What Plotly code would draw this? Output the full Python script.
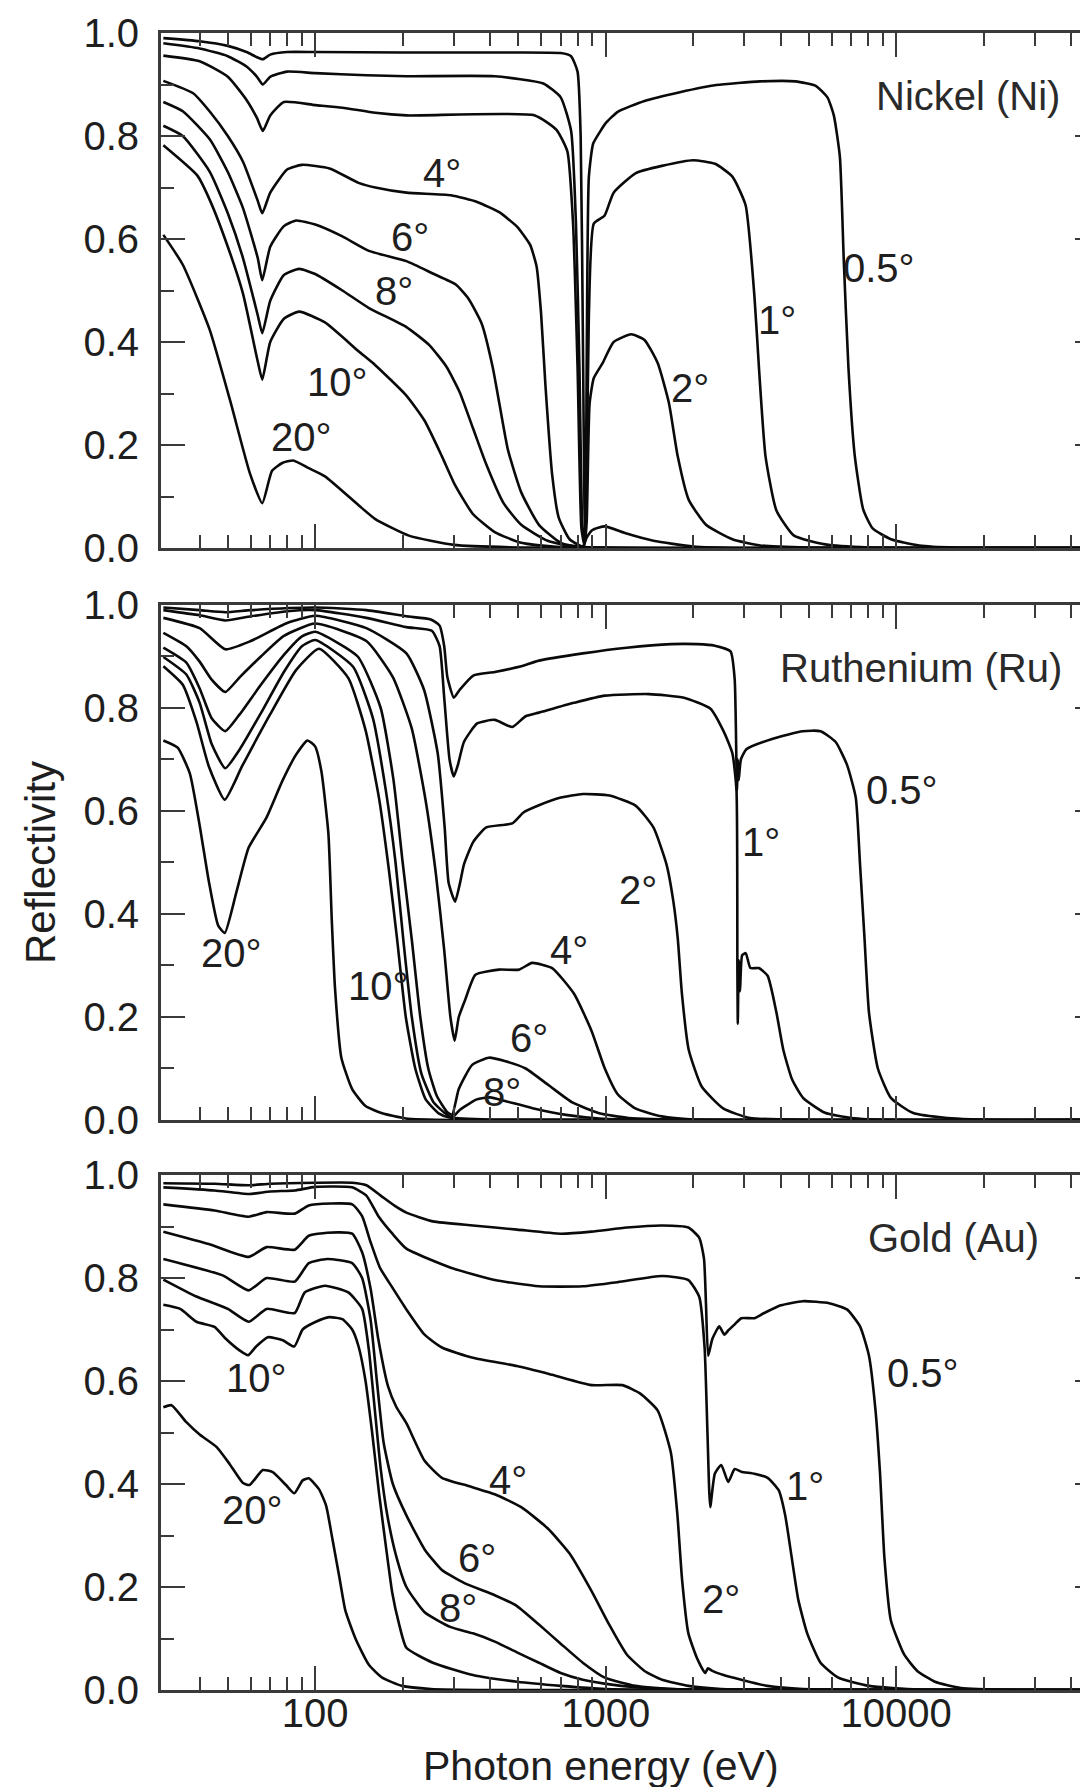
import math
import plotly.graph_objects as go

FONT = "Liberation Sans, Arial, Helvetica, sans-serif"

# ---------------- data: [photon energy (eV), reflectivity] ----------------
ni_05 = [[30,0.990],[40,0.984],[50,0.975],[58,0.963],[63,0.953],[66,0.949],[70,0.958],[80,0.963],[100,0.963],[200,0.962],[400,0.962],[700,0.961],[760,0.955],[800,0.925],[820,0.80],[835,0.40],[845,0.08],[852,0.02],[860,0.35],[875,0.72],[905,0.785],[960,0.81],[1000,0.825],[1100,0.847],[1360,0.868],[1800,0.885],[2400,0.899],[3400,0.906],[4500,0.906],[5300,0.897],[5800,0.875],[6100,0.84],[6400,0.76],[6600,0.56],[6850,0.35],[7200,0.18],[7700,0.075],[8300,0.038],[9600,0.017],[12000,0.005],[16000,0.001],[49000,0.0]]
ni_1 = [[30,0.980],[40,0.970],[50,0.955],[58,0.935],[63,0.915],[66,0.900],[70,0.915],[80,0.925],[100,0.922],[150,0.918],[206,0.916],[415,0.916],[610,0.902],[700,0.875],[760,0.81],[790,0.63],[812,0.35],[830,0.05],[845,0.01],[858,0.10],[875,0.45],[910,0.63],[990,0.645],[1065,0.69],[1270,0.728],[1560,0.742],[2000,0.753],[2380,0.746],[2730,0.721],[3030,0.666],[3250,0.49],[3370,0.35],[3550,0.178],[3870,0.073],[4450,0.024],[5700,0.007],[8000,0.001],[49000,0.0]]
ni_2 = [[30,0.956],[40,0.945],[50,0.915],[58,0.870],[63,0.835],[66,0.810],[70,0.840],[78,0.866],[100,0.860],[124,0.855],[161,0.845],[206,0.840],[570,0.840],[677,0.812],[738,0.770],[772,0.630],[800,0.352],[825,0.038],[845,0.005],[860,0.05],[880,0.28],[910,0.33],[976,0.359],[1065,0.400],[1224,0.415],[1360,0.404],[1510,0.359],[1650,0.282],[1770,0.178],[1930,0.094],[2215,0.045],[2730,0.017],[3400,0.005],[5000,0.001],[49000,0.0]]
ni_4 = [[30,0.907],[38,0.883],[43.4,0.847],[50,0.800],[56.4,0.750],[63.4,0.674],[65.7,0.650],[70,0.690],[80,0.735],[90,0.744],[112,0.737],[141,0.709],[161,0.700],[206,0.690],[293,0.685],[361,0.672],[430,0.652],[495,0.624],[549,0.589],[578,0.547],[599,0.456],[620,0.317],[654,0.143],[689,0.059],[751,0.017],[834,0.003],[860,0.020],[900,0.035],[993,0.042],[1180,0.028],[1460,0.014],[2000,0.003],[3000,0.0],[49000,0.0]]
ni_6 = [[30,0.866],[35,0.848],[43.4,0.793],[50,0.730],[56.4,0.660],[63.4,0.563],[65.7,0.520],[70,0.585],[78,0.625],[86,0.636],[100,0.628],[124,0.605],[153,0.577],[206,0.557],[254,0.533],[304,0.512],[337,0.484],[374,0.436],[408,0.352],[430,0.282],[461,0.190],[512,0.108],[589,0.045],[700,0.010],[850,0.002],[49000,0.0]]
ni_8 = [[30,0.820],[35,0.800],[43.4,0.730],[50,0.650],[56.4,0.563],[63.4,0.452],[65.7,0.417],[70,0.480],[78,0.530],[88,0.542],[100,0.532],[124,0.500],[153,0.466],[206,0.429],[247,0.394],[283,0.352],[314,0.303],[349,0.233],[387,0.164],[445,0.087],[512,0.045],[631,0.014],[800,0.002],[49000,0.0]]
ni_10 = [[30,0.782],[39.3,0.723],[43.4,0.675],[50,0.585],[56.4,0.494],[63.4,0.362],[65.7,0.327],[70,0.400],[78,0.445],[88,0.459],[108,0.438],[141,0.382],[161,0.355],[206,0.296],[238,0.247],[273,0.178],[303,0.122],[349,0.066],[415,0.031],[512,0.010],[700,0.002],[49000,0.0]]
ni_20 = [[30,0.608],[35,0.550],[43.3,0.424],[51,0.285],[59.5,0.146],[65.7,0.087],[71,0.150],[77,0.165],[84,0.170],[95,0.155],[108,0.139],[141,0.083],[161,0.056],[210,0.024],[300,0.006],[500,0.001],[49000,0.0]]

ru_05 = [[30,0.995],[40,0.990],[49,0.986],[60,0.990],[100,0.995],[150,0.990],[206,0.978],[250,0.972],[268,0.960],[278,0.920],[285,0.860],[300,0.820],[314,0.835],[350,0.863],[415,0.870],[512,0.881],[589,0.892],[834,0.906],[1180,0.917],[1680,0.924],[2065,0.924],[2375,0.921],[2690,0.910],[2780,0.856],[2830,0.640],[2850,0.700],[2870,0.660],[2920,0.700],[3050,0.720],[3740,0.740],[4770,0.755],[5490,0.755],[6190,0.734],[6770,0.690],[7260,0.626],[7510,0.496],[7780,0.353],[8060,0.209],[8650,0.100],[9590,0.043],[11400,0.014],[15000,0.004],[25000,0.0],[49000,0.0]]
ru_1 = [[30,0.990],[40,0.980],[49,0.970],[60,0.978],[80,0.988],[100,0.990],[150,0.975],[206,0.957],[252,0.950],[268,0.920],[278,0.820],[290,0.700],[300,0.667],[310,0.690],[325,0.734],[361,0.770],[415,0.777],[477,0.763],[530,0.784],[589,0.791],[778,0.810],[993,0.824],[1410,0.827],[1860,0.820],[2290,0.799],[2545,0.755],[2730,0.712],[2820,0.640],[2840,0.300],[2850,0.187],[2870,0.310],[2900,0.250],[2950,0.320],[3035,0.324],[3150,0.295],[3366,0.295],[3610,0.280],[3870,0.209],[4085,0.137],[4380,0.079],[4780,0.043],[5690,0.014],[7000,0.004],[10000,0.0],[49000,0.0]]
ru_2 = [[30,0.975],[40,0.955],[49,0.914],[60,0.930],[80,0.965],[100,0.979],[150,0.955],[206,0.906],[237,0.835],[264,0.712],[279,0.568],[288,0.460],[303,0.424],[315,0.460],[325,0.496],[350,0.540],[388,0.568],[477,0.576],[521,0.597],[589,0.611],[700,0.626],[834,0.633],[1030,0.630],[1270,0.610],[1460,0.568],[1620,0.496],[1710,0.424],[1770,0.353],[1830,0.245],[1930,0.137],[2140,0.065],[2545,0.022],[3140,0.004],[5000,0.0],[49000,0.0]]
ru_4 = [[30,0.946],[36,0.920],[40,0.890],[44,0.855],[49,0.831],[55,0.860],[65,0.900],[78,0.940],[100,0.964],[150,0.930],[185,0.860],[215,0.760],[240,0.620],[260,0.480],[278,0.330],[292,0.200],[302,0.154],[312,0.200],[329,0.235],[356,0.282],[429,0.292],[503,0.292],[558,0.305],[654,0.295],[778,0.245],[894,0.173],[993,0.100],[1100,0.050],[1270,0.022],[1560,0.007],[2000,0.001],[49000,0.0]]
ru_6 = [[30,0.917],[36,0.888],[40,0.838],[44,0.780],[49,0.755],[55,0.788],[65,0.845],[78,0.903],[90,0.939],[100,0.948],[140,0.900],[168,0.800],[186,0.660],[200,0.500],[215,0.350],[230,0.200],[245,0.100],[262,0.047],[285,0.015],[296,0.010],[312,0.060],[347,0.107],[396,0.121],[452,0.114],[530,0.100],[638,0.067],[768,0.034],[950,0.013],[1200,0.004],[2000,0.0],[49000,0.0]]
ru_8 = [[30,0.899],[36,0.865],[40,0.810],[44,0.730],[49,0.683],[55,0.720],[65,0.790],[78,0.870],[90,0.920],[100,0.932],[135,0.880],[158,0.780],[175,0.640],[189,0.500],[201,0.350],[215,0.200],[232,0.090],[255,0.035],[280,0.013],[296,0.005],[315,0.020],[360,0.040],[400,0.044],[450,0.037],[560,0.023],[730,0.010],[950,0.003],[1500,0.0],[49000,0.0]]
ru_10 = [[30,0.881],[35,0.845],[39,0.773],[43,0.687],[48.8,0.622],[56,0.687],[70,0.788],[86,0.874],[103,0.915],[130,0.858],[149,0.757],[166,0.623],[179,0.489],[191,0.355],[205,0.200],[221,0.100],[240,0.040],[266,0.013],[290,0.005],[400,0.001],[49000,0.0]]
ru_20 = [[30,0.737],[33.6,0.723],[37,0.673],[40,0.572],[43,0.464],[46.3,0.378],[48.8,0.363],[53.5,0.442],[59,0.529],[67.8,0.586],[77,0.658],[85.8,0.709],[94,0.737],[100,0.725],[105,0.677],[111,0.556],[114,0.389],[117,0.255],[123,0.121],[134,0.060],[149,0.027],[170,0.013],[205,0.003],[300,0.0],[49000,0.0]]

au_05 = [[30,0.984],[45,0.983],[59,0.980],[70,0.983],[100,0.985],[134,0.985],[150,0.980],[168,0.960],[188,0.940],[206,0.927],[254,0.910],[349,0.902],[495,0.894],[700,0.886],[894,0.890],[1182,0.898],[1563,0.902],[1926,0.898],[2100,0.878],[2180,0.837],[2215,0.747],[2253,0.649],[2330,0.682],[2460,0.706],[2560,0.690],[2640,0.698],[2780,0.710],[2930,0.722],[3250,0.722],[3485,0.731],[4010,0.747],[4770,0.755],[5880,0.751],[6770,0.739],[7510,0.706],[8060,0.649],[8490,0.543],[8800,0.420],[9110,0.257],[9590,0.135],[10650,0.069],[11820,0.037],[13600,0.016],[16700,0.004],[25000,0.0],[49000,0.0]]
au_1 = [[30,0.976],[45,0.970],[59,0.963],[70,0.968],[85,0.970],[100,0.977],[134,0.976],[150,0.960],[165,0.920],[185,0.885],[206,0.857],[293,0.820],[415,0.796],[589,0.784],[834,0.784],[1102,0.792],[1563,0.804],[1926,0.796],[2100,0.763],[2190,0.665],[2240,0.502],[2290,0.355],[2375,0.420],[2500,0.437],[2640,0.404],[2780,0.429],[2930,0.424],[3250,0.420],[3610,0.412],[3940,0.388],[4150,0.339],[4370,0.257],[4600,0.176],[4940,0.110],[5490,0.053],[6320,0.024],[8060,0.008],[12000,0.001],[49000,0.0]]
au_2 = [[30,0.943],[45,0.931],[59,0.919],[68,0.928],[85,0.925],[95,0.941],[134,0.943],[145,0.920],[155,0.870],[167,0.820],[185,0.780],[206,0.739],[238,0.690],[273,0.665],[349,0.645],[495,0.629],[654,0.612],[894,0.592],[1142,0.592],[1312,0.576],[1509,0.543],[1676,0.461],[1766,0.339],[1831,0.216],[1926,0.110],[2065,0.061],[2200,0.033],[2250,0.042],[2330,0.037],[2545,0.029],[2930,0.020],[3600,0.008],[4780,0.002],[49000,0.0]]
au_4 = [[30,0.890],[43,0.866],[59,0.841],[68,0.860],[85,0.855],[95,0.882],[110,0.888],[134,0.886],[145,0.850],[155,0.780],[165,0.680],[178,0.590],[190,0.550],[206,0.518],[238,0.445],[273,0.412],[337,0.396],[415,0.380],[512,0.355],[631,0.314],[751,0.265],[894,0.192],[1028,0.127],[1182,0.069],[1360,0.037],[1563,0.020],[1926,0.008],[2500,0.002],[49000,0.0]]
au_6 = [[30,0.837],[48,0.805],[59,0.776],[68,0.800],[85,0.793],[95,0.829],[110,0.837],[134,0.829],[145,0.800],[155,0.720],[163,0.600],[172,0.480],[185,0.400],[206,0.339],[238,0.273],[273,0.233],[325,0.208],[415,0.184],[495,0.163],[589,0.127],[700,0.090],[834,0.053],[993,0.024],[1268,0.008],[1700,0.002],[49000,0.0]]
au_8 = [[30,0.797],[39,0.764],[50,0.740],[59,0.715],[68,0.740],[85,0.732],[92,0.772],[108,0.785],[130,0.772],[145,0.740],[153,0.660],[160,0.550],[168,0.430],[177,0.340],[190,0.260],[206,0.200],[238,0.151],[293,0.122],[349,0.110],[415,0.094],[495,0.073],[589,0.053],[700,0.033],[834,0.020],[1065,0.010],[1400,0.004],[2000,0.001],[49000,0.0]]
au_10 = [[30,0.748],[34.3,0.740],[39,0.715],[45,0.705],[49,0.683],[55,0.659],[58.7,0.650],[62.6,0.667],[68.7,0.685],[77.3,0.679],[84.7,0.667],[90.5,0.700],[100.5,0.715],[111.7,0.724],[124,0.720],[134,0.700],[141,0.667],[149,0.600],[157,0.500],[166,0.380],[175,0.280],[184,0.190],[194,0.130],[206,0.082],[254,0.053],[349,0.029],[495,0.016],[700,0.008],[1000,0.002],[49000,0.0]]
au_20 = [[30,0.549],[32,0.553],[36,0.520],[40,0.496],[45.7,0.472],[50.7,0.439],[56.4,0.402],[59.4,0.398],[66,0.427],[71.4,0.423],[79.3,0.398],[84.7,0.382],[90.5,0.407],[95,0.411],[103,0.390],[109,0.358],[114.6,0.293],[121,0.220],[127,0.154],[138,0.098],[153,0.049],[170,0.024],[199,0.008],[250,0.002],[400,0.0],[49000,0.0]]

angle_labels = ["0.5°", "1°", "2°", "4°", "6°", "8°", "10°", "20°"]
ni_label_e = [8700, 3900, 1950, 273, 212, 186, 119, 90]
ni_label_r = [0.544, 0.443, 0.31, 0.728, 0.603, 0.50, 0.323, 0.215]
ru_label_e = [10450, 3430, 1290, 750, 544, 440, 165, 51.5]
ru_label_r = [0.64, 0.54, 0.446, 0.33, 0.16, 0.055, 0.26, 0.324]
au_label_e = [12400, 4850, 2500, 461, 361, 309, 62.6, 61]
au_label_r = [0.615, 0.396, 0.176, 0.408, 0.257, 0.159, 0.606, 0.35]

panel_names = ["Nickel (Ni)", "Ruthenium (Ru)", "Gold (Au)"]
panel_name_e = [37150, 37760, 31500]
panel_name_r = 0.878

x_major = [100, 1000, 10000]
x_major_text = ["100", "1000", "10000"]
x_minor = [40, 50, 60, 70, 80, 90, 200, 300, 400, 500, 600, 700, 800, 900,
           2000, 3000, 4000, 5000, 6000, 7000, 8000, 9000, 20000, 30000, 40000]
y_major = [0.0, 0.2, 0.4, 0.6, 0.8, 1.0]
y_major_text = ["0.0", "0.2", "0.4", "0.6", "0.8", "1.0"]
y_minor = [0.1, 0.3, 0.5, 0.7, 0.9]

panels = [
    [ni_05, ni_1, ni_2, ni_4, ni_6, ni_8, ni_10, ni_20],
    [ru_05, ru_1, ru_2, ru_4, ru_6, ru_8, ru_10, ru_20],
    [au_05, au_1, au_2, au_4, au_6, au_8, au_10, au_20],
]
panel_labels = [(ni_label_e, ni_label_r), (ru_label_e, ru_label_r), (au_label_e, au_label_r)]

# ---------------- figure ----------------
W, H = 1088, 1787
ML, MR, MT, MB = 153, 0, 25, 105
domains = [[0.6892, 1.0], [0.3440, 0.6548], [0.0, 0.3108]]
XRANGE = [1.469, 4.688]
AX = "#3a3a3a"
TXT = "#1e1e1e"

fig = go.Figure()
annotations = []
layout = {}

for i, curves in enumerate(panels):
    k = i + 1
    xa = "x" if k == 1 else f"x{k}"
    ya = "y" if k == 1 else f"y{k}"
    yr = f"y{k + 3}"
    for c in curves:
        fig.add_trace(go.Scatter(
            x=[p[0] for p in c], y=[p[1] for p in c], mode="lines",
            line=dict(color="#0a0a0a", width=2.6, shape="spline", smoothing=0.5),
            xaxis=xa, yaxis=ya, showlegend=False, hoverinfo="skip"))
    # placeholder trace so the right-hand tick axis is drawn
    fig.add_trace(go.Scatter(x=[1000], y=[None], mode="lines", xaxis=xa, yaxis=yr,
                             showlegend=False, hoverinfo="skip"))

    layout["xaxis" if k == 1 else f"xaxis{k}"] = dict(
        type="log", range=XRANGE, domain=[0, 1], anchor=ya,
        showline=True, linecolor=AX, linewidth=3, mirror="ticks",
        ticks="inside", ticklen=24, tickwidth=2, tickcolor=AX,
        tickmode="array", tickvals=x_major, ticktext=x_major_text,
        showticklabels=(k == 3), ticklabelstandoff=-14,
        tickfont=dict(family=FONT, size=40, color=TXT),
        showgrid=False, zeroline=False,
        minor=dict(tickmode="array", tickvals=x_minor, ticks="inside",
                   ticklen=13, tickwidth=2, tickcolor=AX, showgrid=False),
    )
    layout["yaxis" if k == 1 else f"yaxis{k}"] = dict(
        range=[0, 1], domain=domains[i], anchor=xa,
        showline=True, linecolor=AX, linewidth=3,
        ticks="inside", ticklen=24, tickwidth=2, tickcolor=AX,
        tickmode="array", tickvals=y_major, ticktext=y_major_text,
        ticklabelstandoff=11,
        tickfont=dict(family=FONT, size=40, color=TXT),
        showgrid=False, zeroline=False,
        minor=dict(tickmode="array", tickvals=y_minor, ticks="inside",
                   ticklen=13, tickwidth=2, tickcolor=AX, showgrid=False),
    )
    layout[f"yaxis{k + 3}"] = dict(
        range=[0, 1], overlaying=ya, side="right", anchor=xa,
        showline=False, ticks="inside", ticklen=21, tickwidth=2, tickcolor=AX,
        tickmode="array", tickvals=y_major, showticklabels=False,
        showgrid=False, zeroline=False,
        minor=dict(tickmode="array", tickvals=y_minor, ticks="inside",
                   ticklen=10, tickwidth=2, tickcolor=AX, showgrid=False),
    )

    le, lr = panel_labels[i]
    for txt, e, r in zip(angle_labels, le, lr):
        annotations.append(dict(
            x=math.log10(e), y=r, xref=xa, yref=ya, text=txt, showarrow=False,
            xanchor="center", yanchor="middle",
            font=dict(family=FONT, size=40, color=TXT)))
    annotations.append(dict(
        x=math.log10(panel_name_e[i]), y=panel_name_r, xref=xa, yref=ya,
        text=panel_names[i], showarrow=False, xanchor="right", yanchor="middle",
        font=dict(family=FONT, size=40, color="#2a2a2a")))

plot_w = W - ML - MR
plot_h = H - MT - MB
annotations.append(dict(
    x=(32 - ML) / plot_w, y=(H - MB - 854) / plot_h, xref="paper", yref="paper",
    text="Reflectivity", textangle=-90, showarrow=False,
    xanchor="center", yanchor="middle",
    font=dict(family=FONT, size=42, color=TXT)))
annotations.append(dict(
    x=(593 - ML) / plot_w, y=(H - MB - 1758) / plot_h, xref="paper", yref="paper",
    text="Photon energy (eV)", showarrow=False,
    xanchor="center", yanchor="middle",
    font=dict(family=FONT, size=41, color=TXT)))

fig.update_layout(
    width=W, height=H,
    margin=dict(l=ML, r=MR, t=MT, b=MB, pad=0),
    paper_bgcolor="white", plot_bgcolor="white",
    showlegend=False, hovermode=False,
    annotations=annotations,
    **layout,
)

fig.write_html("out.html")
